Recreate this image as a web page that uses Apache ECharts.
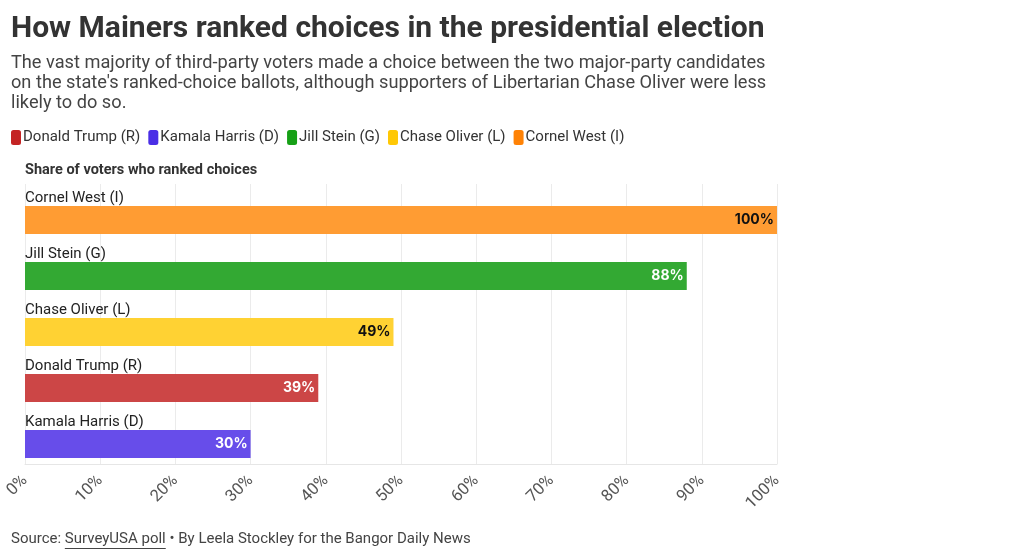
<!DOCTYPE html>
<html><head><meta charset="utf-8">
<script src="https://cdn.jsdelivr.net/npm/echarts@6/dist/echarts.min.js"></script>
<style>html,body{margin:0;padding:0;background:#fff}#c{width:1020px;height:558px}</style>
</head><body><div id="c"></div>
<script>
const categories = ["Cornel West (I)", "Jill Stein (G)", "Chase Oliver (L)", "Donald Trump (R)", "Kamala Harris (D)"];
const values = [100, 88, 49, 39, 30];
const barColors = ["#FF9C33", "#33A933", "#FFD233", "#CC4646", "#674DEA"];
const labelColors = ["#111", "#fff", "#111", "#fff", "#fff"];
const legendNames = ["Donald Trump (R)", "Kamala Harris (D)", "Jill Stein (G)", "Chase Oliver (L)", "Cornel West (I)"];
const legendColors = ["#C42424", "#4A2EE6", "#16A016", "#FFC805", "#FF8205"];
const xTicks = [0, 10, 20, 30, 40, 50, 60, 70, 80, 90, 100];

const FONT = 'Roboto';
const chart = echarts.init(document.getElementById('c'), null, {renderer: 'canvas'});
const option = {
  animation: false,
  textStyle: {fontFamily: FONT},
  title: [
    {text: 'How Mainers ranked choices in the presidential election', left: 6, top: 9,
     textStyle: {fontFamily: FONT, fontSize: 30, fontWeight: 'bold', color: '#333'}},
    {text: "The vast majority of third-party voters made a choice between the two major-party candidates\non the state's ranked-choice ballots, although supporters of Libertarian Chase Oliver were less\nlikely to do so.",
     left: 6, top: 48,
     textStyle: {fontFamily: FONT, fontSize: 18.2, fontWeight: 'normal', color: '#444', lineHeight: 20}},
    {text: 'Share of voters who ranked choices', left: 20, top: 158,
     textStyle: {fontFamily: FONT, fontSize: 14.5, fontWeight: 'bold', color: '#333'}}
  ],
  legend: {
    left: 6, top: 125, icon: 'roundRect', itemWidth: 10, itemHeight: 15, itemGap: 8,
    textStyle: {fontFamily: FONT, fontSize: 15, color: '#333', padding: [0, 0, 0, -3]},
    data: legendNames
  },
  grid: {left: 25, right: 243, top: 184, bottom: 94, containLabel: false},
  xAxis: {
    type: 'value', min: 0, max: 100, interval: 10,
    axisLine: {show: true, lineStyle: {color: '#e6e6e6'}},
    axisTick: {show: false},
    splitLine: {show: true, lineStyle: {color: '#ebebeb'}},
    axisLabel: {rotate: 45, fontFamily: FONT, fontSize: 16.5, color: '#555', margin: 14,
      formatter: v => xTicks.indexOf(v) >= 0 ? v + '%' : ''}
  },
  yAxis: {
    type: 'category', data: categories, inverse: true,
    axisLine: {show: false}, axisTick: {show: false}, axisLabel: {show: false}
  },
  series: [
    {type: 'bar', name: '_labels', barWidth: 16, barGap: 0, silent: true,
     data: values.map(v => ({value: v, itemStyle: {color: 'rgba(0,0,0,0)'}})),
     label: {show: true, position: 'insideLeft', distance: 0, formatter: p => p.name,
       fontFamily: FONT, fontSize: 15, color: '#222'}},
    {type: 'bar', name: 'Share', barWidth: 28, barGap: 0,
     data: values.map((v, i) => ({value: v, itemStyle: {color: barColors[i]},
       label: {color: labelColors[i]}})),
     label: {show: true, position: 'insideRight', distance: 3, formatter: p => p.value + '%',
       fontFamily: 'Inter', fontSize: 14, fontWeight: 'bold'}},
    ...legendNames.map((n, i) => ({type: 'line', name: n, data: [], itemStyle: {color: legendColors[i]}, lineStyle: {color: legendColors[i]}}))
  ]
};
chart.setOption(option);
(function(){
  const c = document.createElement('canvas').getContext('2d');
  c.font = '15px ' + FONT;
  const x0 = 11 + c.measureText('Source: ').width;
  const w = c.measureText('SurveyUSA poll').width;
  chart.setOption({graphic: [
    {type: 'text', left: 11, top: 532, style: {
      text: '{a|Source: }{a|SurveyUSA poll}{a| • By Leela Stockley for the Bangor Daily News}',
      rich: {a: {fontFamily: FONT, fontSize: 15, fill: '#444'}}}},
    {type: 'line', shape: {x1: x0, y1: 548.5, x2: x0 + w, y2: 548.5}, style: {stroke: '#444', lineWidth: 1}}
  ]});
})();
</script>
</body></html>
